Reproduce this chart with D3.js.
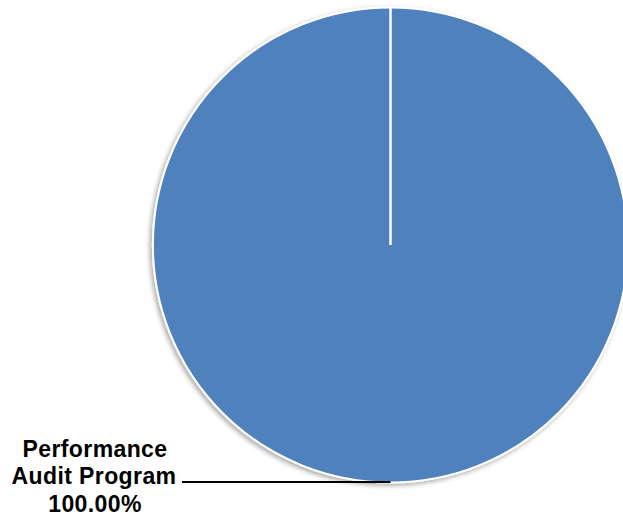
<!DOCTYPE html>
<html><head><meta charset="utf-8">
<script src="https://cdn.jsdelivr.net/npm/d3@7"></script>
<style>body{margin:0;background:#fff}svg{display:block}</style>
</head><body>
<svg id="c" width="623" height="516"></svg>
<script>
const categories = ["Performance Audit Program"];
const values = [100];
const labelLines = ["Performance", "Audit Program", "100.00%"];

const svg = d3.select("#c");
const cx = 390.5, cy = 245, r = 237.5;
const defs = svg.append("defs");
const f = defs.append("filter").attr("id","sh").attr("x","-10%").attr("y","-10%").attr("width","120%").attr("height","120%");
f.append("feGaussianBlur").attr("in","SourceAlpha").attr("stdDeviation",2.5).attr("result","b");
f.append("feOffset").attr("in","b").attr("dx",-2).attr("dy",2).attr("result","o");
f.append("feComponentTransfer").attr("in","o").attr("result","o2").append("feFuncA").attr("type","linear").attr("slope",0.35);
const m = f.append("feMerge"); m.append("feMergeNode").attr("in","o2"); m.append("feMergeNode").attr("in","SourceGraphic");

const pie = d3.pie().sort(null)(values);
const arc = d3.arc().innerRadius(0).outerRadius(r);
const g = svg.append("g").attr("transform",`translate(${cx},${cy})`);
g.selectAll("path").data(pie).join("path")
  .attr("d", arc).attr("fill","#4F81BD").attr("stroke","#fff").attr("stroke-width",2)
  .attr("filter","url(#sh)");
g.append("line").attr("x1",0).attr("y1",0).attr("x2",0).attr("y2",-r).attr("stroke","#fff").attr("stroke-width",2.5);

svg.append("path").attr("d",`M182,482L${cx},482`).attr("stroke","#000").attr("stroke-width",2).attr("fill","none");

const t = svg.append("text").attr("font-family","Liberation Sans, Arial, sans-serif")
  .attr("font-weight","bold").attr("font-size",23).attr("letter-spacing",0.4)
  .attr("text-anchor","middle").attr("fill","#000");
const ys = [457, 484, 512];
labelLines.forEach((s,i)=>{
  t.append("tspan").attr("x",i===1?94:95).attr("y",ys[i]).text(s);
});
</script>
</body></html>
